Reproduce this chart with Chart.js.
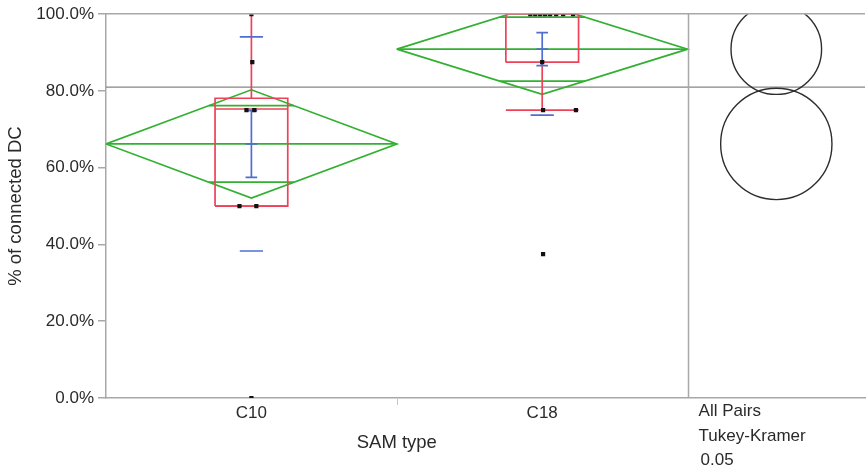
<!DOCTYPE html>
<html>
<head>
<meta charset="utf-8">
<script src="https://cdn.jsdelivr.net/npm/chart.js@4.4.1/dist/chart.umd.min.js"></script>
<style>
  html, body { margin: 0; padding: 0; background: #ffffff; }
  canvas { display: block; }
</style>
</head>
<body>
<canvas id="chart" width="868" height="471"></canvas>
<script>
// ---------- data: % of connected DC by SAM type ----------
const categories = ['C10', 'C18'];
const valuesC10 = [100, 87.5, 75, 75, 50, 50, 0];
const valuesC18 = [100, 100, 100, 100, 100, 100, 100, 100, 87.5, 75, 75, 37.5];
const groupMeans = [66.2, 90.9];
const meanCI95 = [14.1, 11.8];      // half-height of the means diamonds
const groupSD = [27.9, 17.2];
const groupSE = [8.7, 4.3];
const boxQ1 = [50, 87.5];
const boxMedian = [75.3, 100];
const boxQ3 = [78.1, 100];
const whiskerLow = [50, 75];
const whiskerHigh = [100, 100];
const grandMean = 81.0;
const circleRadii = [14.5, 11.8];   // Tukey-Kramer comparison circles, in % units
const yTickValues = [0, 20, 40, 60, 80, 100];
const comparisonText = ['All Pairs', 'Tukey-Kramer', '0.05'];

// ---------- layout / style ----------
const groupValues = [valuesC10, valuesC18];
// horizontal spread of coincident points, as a fraction of one category width
const JITTER = [
  [0, 0.003, -0.017, 0.01, -0.041, 0.017, 0],
  [-0.041, -0.024, -0.007, 0.010, 0.027, 0.048, 0.072, 0.106, 0, 0.003, 0.116, 0.003]
];
const X_MAX = 2.61;              // categories occupy 0..2, the circle panel 2..X_MAX
const BOX_HALF = 0.125;
const SD_HALF = 0.04;
const SE_HALF = 0.02;
const DIAMOND_HALF = 0.5;

const GREEN = 'rgb(50,176,50)';
const RED = 'rgb(238,66,88)';
const BLUE = 'rgb(80,110,210)';
const POINT = '#111111';
const AXIS = '#a8a8a8';
const REF = '#858585';
const TEXT = '#2a2a2a';
const FAMILY = "'Liberation Sans', Arial, sans-serif";
const FONT = { family: FAMILY, size: 17 };
const TITLE_FONT = { family: FAMILY, size: 18.5 };
const LW = 1.7;

function seg(points, color, width) {
  return {
    data: points.map(p => ({ x: p[0], y: p[1] })),
    showLine: true, borderColor: color, borderWidth: width || LW,
    pointRadius: 0, pointHoverRadius: 0, fill: false, tension: 0, clip: 0
  };
}

const pointSets = [], blueSets = [], redSets = [], greenSets = [];

categories.forEach((cat, i) => {
  const c = i + 0.5;
  const m = groupMeans[i];

  // raw observations
  pointSets.push({
    data: groupValues[i].map((v, k) => ({ x: c + JITTER[i][k], y: v })),
    showLine: false, pointStyle: 'rect', pointRadius: 3, pointHoverRadius: 3,
    backgroundColor: POINT, borderColor: POINT, borderWidth: 0, clip: 0
  });

  // std dev lines and std error bars
  blueSets.push(seg([[c - SD_HALF, m + groupSD[i]], [c + SD_HALF, m + groupSD[i]]], BLUE));
  blueSets.push(seg([[c - SD_HALF, m - groupSD[i]], [c + SD_HALF, m - groupSD[i]]], BLUE));
  blueSets.push(seg([[c, m - groupSE[i]], [c, m + groupSE[i]]], BLUE));
  blueSets.push(seg([[c - SE_HALF, m + groupSE[i]], [c + SE_HALF, m + groupSE[i]]], BLUE));
  blueSets.push(seg([[c - SE_HALF, m - groupSE[i]], [c + SE_HALF, m - groupSE[i]]], BLUE));
  blueSets.push(seg([[c - SE_HALF, m], [c + SE_HALF, m]], BLUE));

  // outlier box plot
  redSets.push(seg([[c - BOX_HALF, boxQ1[i]], [c + BOX_HALF, boxQ1[i]], [c + BOX_HALF, boxQ3[i]],
                    [c - BOX_HALF, boxQ3[i]], [c - BOX_HALF, boxQ1[i]]], RED));
  redSets.push(seg([[c - BOX_HALF, boxMedian[i]], [c + BOX_HALF, boxMedian[i]]], RED));
  redSets.push(seg([[c, boxQ3[i]], [c, whiskerHigh[i]]], RED));
  redSets.push(seg([[c, boxQ1[i]], [c, whiskerLow[i]]], RED));
  redSets.push(seg([[c - BOX_HALF, whiskerLow[i]], [c + BOX_HALF, whiskerLow[i]]], RED));

  // means diamond with overlap marks
  const ci = meanCI95[i];
  greenSets.push(seg([[c - DIAMOND_HALF, m], [c, m + ci], [c + DIAMOND_HALF, m], [c, m - ci], [c - DIAMOND_HALF, m]], GREEN));
  greenSets.push(seg([[c - DIAMOND_HALF, m], [c + DIAMOND_HALF, m]], GREEN));
  const ov = ci / Math.SQRT2;
  const ovHalf = DIAMOND_HALF * (1 - ov / ci);
  greenSets.push(seg([[c - ovHalf, m + ov], [c + ovHalf, m + ov]], GREEN));
  greenSets.push(seg([[c - ovHalf, m - ov], [c + ovHalf, m - ov]], GREEN));
});

const grandMeanSet = seg([[0, grandMean], [X_MAX, grandMean]], REF, 1.4);

// first dataset is painted last (on top)
const datasets = [...pointSets, ...blueSets, ...redSets, ...greenSets, grandMeanSet];

const decorations = {
  id: 'decorations',
  afterDatasetsDraw(chart) {
    const { ctx, chartArea: a, scales: { x, y } } = chart;
    ctx.save();
    // comparison circles
    ctx.beginPath();
    ctx.rect(a.left, a.top, a.right - a.left, a.bottom - a.top);
    ctx.clip();
    const cx = x.getPixelForValue((categories.length + X_MAX) / 2);
    ctx.strokeStyle = '#2e2e2e';
    ctx.lineWidth = 1.4;
    groupMeans.forEach((m, i) => {
      const cy = y.getPixelForValue(m);
      const r = Math.abs(y.getPixelForValue(m + circleRadii[i]) - cy);
      ctx.beginPath();
      ctx.arc(cx, cy, r, 0, Math.PI * 2);
      ctx.stroke();
    });
    ctx.restore();

    ctx.save();
    ctx.strokeStyle = AXIS;
    ctx.lineWidth = 1.5;
    // frame: top edge and the divider of the circle panel
    const top = y.getPixelForValue(100) - 0.5;
    ctx.beginPath();
    ctx.moveTo(a.left, top); ctx.lineTo(a.right, top);
    const dx = Math.round(x.getPixelForValue(categories.length)) + 0.5;
    ctx.moveTo(dx, top); ctx.lineTo(dx, a.bottom);
    ctx.stroke();
    // category boundary tick
    const bx = Math.round(x.getPixelForValue(1)) + 0.5;
    ctx.strokeStyle = '#c4c4c4';
    ctx.lineWidth = 1;
    ctx.beginPath();
    ctx.moveTo(bx, a.bottom + 1); ctx.lineTo(bx, a.bottom + 7);
    ctx.stroke();
    ctx.restore();
  },
  afterDraw(chart) {
    const { ctx, chartArea: a, scales: { x } } = chart;
    ctx.save();
    ctx.fillStyle = TEXT;
    ctx.textBaseline = 'middle';
    ctx.textAlign = 'center';
    ctx.font = `${TITLE_FONT.size}px ${FAMILY}`;
    ctx.fillText('SAM type', x.getPixelForValue(categories.length / 2), a.bottom + 45);
    ctx.font = `${FONT.size}px ${FAMILY}`;
    ctx.textAlign = 'left';
    const px = x.getPixelForValue(categories.length);
    ctx.fillText(comparisonText[0], px + 11, a.bottom + 13);
    ctx.fillText(comparisonText[1], px + 11, a.bottom + 38);
    ctx.fillText(comparisonText[2], px + 13, a.bottom + 62);
    ctx.restore();
  }
};

new Chart(document.getElementById('chart'), {
  type: 'scatter',
  data: { datasets },
  options: {
    responsive: false,
    animation: false,
    devicePixelRatio: 1,
    layout: { padding: { top: 14, right: 0, bottom: 0, left: 0 } },
    plugins: { legend: { display: false }, tooltip: { enabled: false } },
    scales: {
      x: {
        type: 'linear', min: 0, max: X_MAX,
        afterBuildTicks: s => { s.ticks = categories.map((_, i) => ({ value: i + 0.5 })); },
        ticks: { callback: (v, i) => categories[i], font: FONT, color: TEXT, padding: -3, maxRotation: 0, autoSkip: false },
        grid: { display: false },
        border: { color: AXIS, width: 1.5 },
        afterFit: s => { s.height = 73; }
      },
      y: {
        type: 'linear', min: 0, max: 100,
        afterBuildTicks: s => { s.ticks = yTickValues.map(v => ({ value: v })); },
        ticks: { callback: v => v.toFixed(1) + '%', font: FONT, color: TEXT, padding: 4 },
        grid: { drawOnChartArea: false, tickLength: 8, color: AXIS, lineWidth: 1.5 },
        border: { color: AXIS, width: 1.5 },
        title: { display: true, text: '% of connected DC', font: TITLE_FONT, color: TEXT, padding: { top: 5, bottom: 0 } },
        afterFit: s => { s.width = 106; }
      }
    }
  },
  plugins: [decorations]
});
</script>
</body>
</html>
